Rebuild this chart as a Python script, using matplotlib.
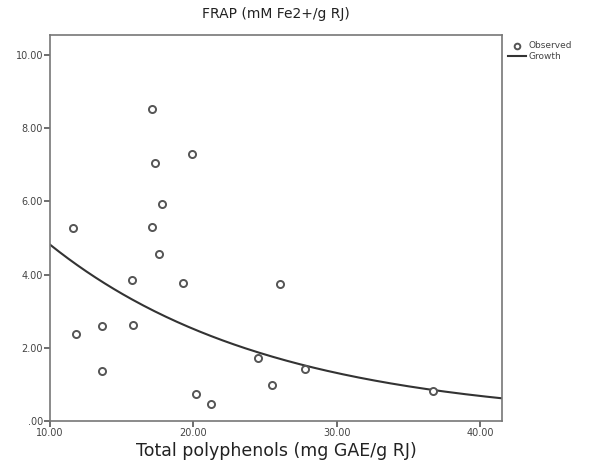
import numpy as np
import matplotlib.pyplot as plt
from matplotlib.ticker import FuncFormatter

polyphenols = [11.6, 11.8, 13.6, 13.6, 15.7, 15.8, 17.1, 17.3, 17.1, 17.8,
               17.6, 19.9, 19.3, 20.2, 21.2, 26.0, 24.5, 27.8, 25.5, 36.7]
frap = [5.27, 2.38, 2.60, 1.37, 3.85, 2.62, 8.52, 7.05, 5.30, 5.93,
        4.56, 7.30, 3.77, 0.74, 0.46, 3.74, 1.72, 1.42, 0.98, 0.82]

# growth model y = exp(b0 + b1*x)
b0, b1 = 2.224, -0.0651

x_ticks = [10, 20, 30, 40]
y_ticks = [0, 2, 4, 6, 8, 10]


def fmt(v, pos):
    s = "%.2f" % v
    return s[1:] if s.startswith("0") else s


fig = plt.figure(figsize=(5.9, 4.7), dpi=100)
ax = fig.add_axes([50 / 590, 1 - 421 / 470, 452 / 590, 386 / 470])

ax.scatter(polyphenols, frap, s=26, facecolors='white', edgecolors='#555555',
           linewidths=1.4, label='Observed', zorder=3)

xs = np.linspace(10, 41.5, 200)
ax.plot(xs, np.exp(b0 + b1 * xs), color='#333333', lw=1.5, label='Growth')

ax.set_xlim(10, 41.5)
ax.set_ylim(0, 10.55)
ax.set_xticks(x_ticks)
ax.set_yticks(y_ticks)
ax.xaxis.set_major_formatter(FuncFormatter(fmt))
ax.yaxis.set_major_formatter(FuncFormatter(fmt))
ax.tick_params(direction='out', length=4, width=1.2, color='#555555',
               labelsize=7, labelcolor='#444444', pad=1)

for sp in ax.spines.values():
    sp.set_color('#777777')
    sp.set_linewidth(1.2)

ax.set_title('FRAP (mM Fe2+/g RJ)', fontsize=10, color='#222222', pad=12)
ax.set_xlabel('Total polyphenols (mg GAE/g RJ)', fontsize=12.5,
              color='#222222', labelpad=3)

leg = ax.legend(loc='upper left', bbox_to_anchor=(1.0, 1.0), frameon=False,
                fontsize=6.5, handlelength=2.0, handletextpad=0.2,
                borderaxespad=0.3, labelspacing=0.2, markerscale=0.8)
for t in leg.get_texts():
    t.set_color('#444444')

fig.savefig('out.png', dpi=100)
